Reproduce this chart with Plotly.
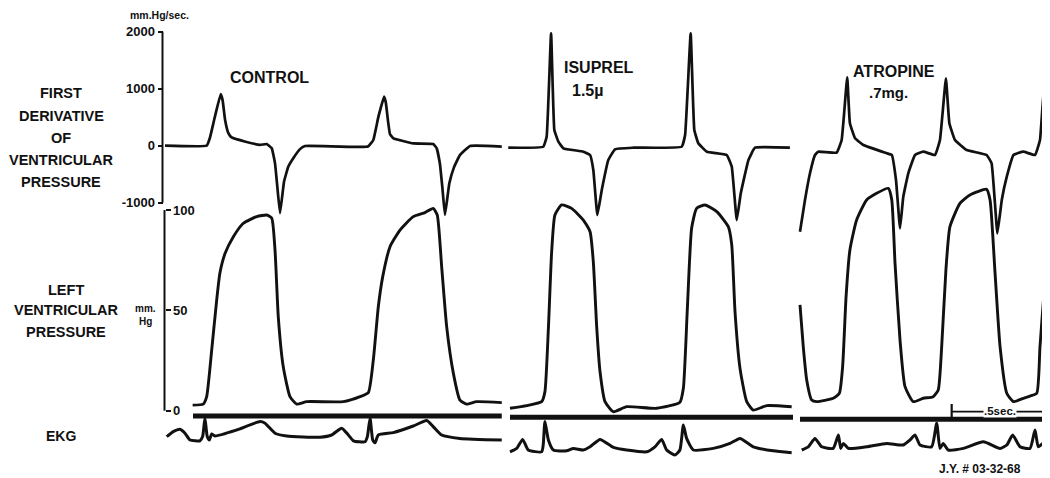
import plotly.graph_objects as go

# ---------------- DATA (time in s from start of each panel) ----------------
PANELS = ["CONTROL", "ISUPREL", "ATROPINE"]

# Control
ctrl_dpdt_t = [0.000, 0.217, 0.234, 0.260, 0.290, 0.300, 0.313, 0.330, 0.347, 0.420, 0.495, 0.530, 0.556,
               0.573, 0.585, 0.599, 0.620, 0.642, 0.668, 0.703, 0.729, 1.057, 1.085, 1.111, 1.141, 1.150,
               1.162, 1.172, 1.190, 1.293, 1.397, 1.415, 1.432, 1.445, 1.458, 1.481, 1.505, 1.536, 1.589, 1.754]
ctrl_dpdt_v = [0, 0, 140, 510, 905, 800, 450, 220, 145, 70, 15, 30, -45,
               -310, -720, -1185, -630, -370, -220, -60, -5, -15, 100, 500, 860, 760,
               420, 200, 130, 40, 30, -45, -320, -750, -1215, -660, -380, -165, -5, -15]

ctrl_lvp_t = [0.144, 0.199, 0.217, 0.243, 0.269, 0.286, 0.313, 0.356, 0.408, 0.478, 0.530, 0.556, 0.573,
              0.590, 0.616, 0.651, 0.686, 0.738, 0.929, 1.016, 1.059, 1.085, 1.111, 1.134, 1.172, 1.224,
              1.293, 1.354, 1.397, 1.418, 1.441, 1.467, 1.502, 1.536, 1.571, 1.623, 1.754]
ctrl_lvp_v = [2.8, 3.3, 7, 30, 55, 68.6, 78.4, 86.7, 93.4, 96.7, 97.5, 95.9, 80,
              46.8, 21.9, 7, 3.3, 4.5, 4.5, 7, 9, 25.3, 51.8, 66.8, 81.7, 90,
              96.7, 98.7, 100.8, 97.5, 71.7, 41.9, 18.6, 5.3, 3.3, 4.5, 4]

ctrl_ekg_t = [0.009, 0.043, 0.078, 0.104, 0.130, 0.182, 0.196, 0.208, 0.220, 0.231, 0.243, 0.260, 0.373,
              0.495, 0.521, 0.573, 0.634, 0.807, 0.868, 0.920, 0.955, 0.981, 1.042, 1.054, 1.068, 1.082,
              1.094, 1.111, 1.189, 1.293, 1.363, 1.397, 1.441, 1.536, 1.754]
ctrl_ekg_v = [0.07, 0.32, 0.44, 0.24, -0.10, -0.14, 0.07, 0.99, 0.07, -0.10, 0.20, 0.10, 0.40,
              0.82, 0.74, 0.24, 0.10, 0.04, 0.15, 0.49, 0.15, -0.14, -0.19, 0.07, 0.99, -0.10,
              -0.24, 0.15, 0.27, 0.60, 0.87, 0.57, 0.15, -0.02, -0.10]

# Isuprel 1.5 µ
isup_dpdt_t = [0.017, 0.199, 0.217, 0.240, 0.257, 0.278, 0.304, 0.408, 0.443, 0.460, 0.481, 0.504, 0.538,
               0.573, 0.668, 0.920, 0.938, 0.967, 0.986, 1.007, 1.051, 1.155, 1.181, 1.207, 1.228, 1.268,
               1.302, 1.484]
isup_dpdt_v = [-35, -18, 158, 1972, 275, 70, -46, -105, -163, -426, -1216, -777, -251,
               -63, -35, -18, 188, 1972, 275, 42, -105, -163, -368, -1304, -835, -251,
               -35, -35]

isup_lvp_t = [0.026, 0.113, 0.191, 0.208, 0.226, 0.243, 0.260, 0.295, 0.347, 0.408, 0.443, 0.460, 0.478,
              0.495, 0.521, 0.564, 0.634, 0.790, 0.911, 0.929, 0.949, 0.972, 0.998, 1.042, 1.103, 1.163,
              1.181, 1.198, 1.224, 1.259, 1.293, 1.363, 1.493]
isup_lvp_v = [1.2, 2.5, 4.5, 9.5, 41, 79.2, 97.5, 102.5, 100.8, 95, 89.2, 74.2, 41,
              19.4, 4.5, -0.5, 2, 1.2, 4.2, 11.2, 49.3, 90.9, 100.8, 102.5, 99.2, 91.7,
              82.6, 49.3, 21.1, 4.5, 0.3, 2.5, 2]

isup_ekg_t = [0.026, 0.061, 0.092, 0.121, 0.191, 0.199, 0.208, 0.226, 0.252, 0.321, 0.356, 0.408, 0.443,
              0.495, 0.564, 0.634, 0.738, 0.781, 0.816, 0.842, 0.885, 0.911, 0.929, 0.946, 0.981, 1.085,
              1.172, 1.224, 1.293, 1.397, 1.493]
isup_ekg_v = [-0.69, -0.52, -0.07, -0.60, -0.69, -0.35, 0.82, -0.10, -0.60, -0.64, -0.52, -0.60, -0.44,
              -0.07, -0.47, -0.60, -0.69, -0.44, -0.07, -0.60, -0.85, -0.60, 0.65, -0.02, -0.60, -0.52,
              -0.27, -0.02, -0.44, -0.64, -0.74]

# Atropine .7 mg
atro_dpdt_t = [0.026, 0.052, 0.078, 0.104, 0.121, 0.217, 0.243, 0.272, 0.286, 0.313, 0.356, 0.478, 0.504,
               0.526, 0.547, 0.564, 0.590, 0.625, 0.668, 0.729, 0.755, 0.786, 0.804, 0.833, 0.894, 0.998,
               1.024, 1.054, 1.077, 1.103, 1.138, 1.189, 1.250, 1.276, 1.302, 1.319]
atro_dpdt_v = [-1509, -953, -484, -163, -105, -123, 100, 1200, 393, 130, 12, -133, -163,
               -602, -1449, -895, -484, -163, -105, -163, 100, 1182, 393, 100, -75, -163,
               -309, -1537, -953, -544, -163, -105, -163, 100, 1182, 1095]

atro_lvp_t = [0.026, 0.043, 0.061, 0.087, 0.113, 0.199, 0.231, 0.248, 0.266, 0.286, 0.321, 0.373, 0.425,
              0.486, 0.504, 0.521, 0.547, 0.573, 0.616, 0.668, 0.720, 0.746, 0.764, 0.786, 0.807, 0.859,
              0.911, 0.998, 1.016, 1.042, 1.068, 1.103, 1.138, 1.189, 1.224, 1.259, 1.276, 1.302, 1.319]
atro_lvp_v = [52.7, 31.9, 15.3, 5.3, 4.5, 6.2, 8.7, 21.9, 56.8, 80.1, 95.0, 105.0, 108.3,
              110.8, 105.0, 73.4, 35.2, 12.0, 4.5, 6.2, 7.0, 10.3, 31.9, 70.1, 91.7, 103.3,
              107.5, 110.3, 105.0, 68.5, 31.9, 8.7, 4.5, 6.2, 7.3, 8.7, 31.9, 65.1, 81.7]

atro_ekg_t = [0.035, 0.069, 0.104, 0.139, 0.199, 0.226, 0.238, 0.252, 0.278, 0.373, 0.478, 0.564, 0.599,
              0.625, 0.651, 0.712, 0.738, 0.755, 0.772, 0.798, 0.877, 0.981, 1.068, 1.103, 1.134, 1.172,
              1.224, 1.250, 1.267, 1.293, 1.319]
atro_ekg_v = [-0.60, -0.44, -0.02, -0.44, -0.52, 0.15, -0.52, -0.27, -0.52, -0.44, -0.27, -0.35, -0.10,
              0.15, -0.35, -0.44, 0.74, -0.52, -0.27, -0.60, -0.52, -0.19, -0.52, -0.35, 0.15, -0.44,
              -0.52, 0.40, -0.44, -0.27, -0.52]

# Recorder reference (zero) line under each pressure trace: start, end (s), level (mm Hg)
ref_line_start = [0.146, 0.026, 0.026]
ref_line_end = [1.754, 1.500, 1.318]
ref_line_level = [-2.6, -3.3, -4.3]

# Time calibration bar (Atropine panel)
scale_bar_start = 0.816
scale_bar_len = 0.5
scale_bar_level = -0.5

dpdt_ticks = [-1000, 0, 1000, 2000]
dpdt_ticktext = ["-1000", "0", "1000", "2000"]
lvp_ticks = [0, 50, 100]
lvp_ticktext = ["0", "50", "100"]

# ---------------- LAYOUT helpers ----------------
# The page body has an 8 px margin; the figure is placed at (8, 8).
OX, OY = 8, 8
FW, FH = 1042, 470
FONT = "Liberation Sans"
INK = "#111111"


def px(x):
    return (x - OX) / FW


def py(y):
    return 1 - (y - OY) / FH


def dom(top, bottom):
    return [1 - (bottom - OY) / FH, 1 - (top - OY) / FH]


PANEL_PX = [(165, 505), (505, 795), (795, 1050)]
PX_PER_SEC = 192.0

# dP/dt axis: 0 at px 145.7, 57 px per 1000 mmHg/s
DP_TOP, DP_BOT = 25, 240
dp_range = [(145.7 - DP_BOT) / 0.057, (145.7 - DP_TOP) / 0.057]
# pressure axis: 0 at px 410.7, 2.007 px per mmHg
LV_TOP, LV_BOT = 178, 426
lv_range = [(410.7 - LV_BOT) / 2.007, (410.7 - LV_TOP) / 2.007]
# EKG axis: baseline px 438, 20 px per unit
EK_TOP, EK_BOT = 402, 466
ek_range = [(438 - EK_BOT) / 20.0, (438 - EK_TOP) / 20.0]

fig = go.Figure()

data = [
    (ctrl_dpdt_t, ctrl_dpdt_v, ctrl_lvp_t, ctrl_lvp_v, ctrl_ekg_t, ctrl_ekg_v),
    (isup_dpdt_t, isup_dpdt_v, isup_lvp_t, isup_lvp_v, isup_ekg_t, isup_ekg_v),
    (atro_dpdt_t, atro_dpdt_v, atro_lvp_t, atro_lvp_v, atro_ekg_t, atro_ekg_v),
]
xaxes = ["x", "x2", "x3"]
for i, (dt, dv, lt, lv, et, ev) in enumerate(data):
    xa = xaxes[i]
    fig.add_trace(go.Scatter(x=dt, y=dv, xaxis=xa, yaxis="y", mode="lines",
                             line=dict(color=INK, width=2.7, shape="spline", smoothing=0.3),
                             name=PANELS[i] + " dP/dt"))
    fig.add_trace(go.Scatter(x=lt, y=lv, xaxis=xa, yaxis="y2", mode="lines",
                             line=dict(color=INK, width=2.9, shape="spline", smoothing=0.5),
                             name=PANELS[i] + " LVP"))
    fig.add_trace(go.Scatter(x=[ref_line_start[i], ref_line_end[i]],
                             y=[ref_line_level[i], ref_line_level[i]],
                             xaxis=xa, yaxis="y2", mode="lines",
                             line=dict(color=INK, width=5), name=PANELS[i] + " ref"))
    fig.add_trace(go.Scatter(x=et, y=ev, xaxis=xa, yaxis="y3", mode="lines",
                             line=dict(color=INK, width=3, shape="spline", smoothing=0.5),
                             name=PANELS[i] + " EKG"))

# .5 sec calibration bar
fig.add_trace(go.Scatter(x=[scale_bar_start, scale_bar_start + scale_bar_len],
                         y=[scale_bar_level, scale_bar_level], xaxis="x3", yaxis="y2",
                         mode="lines+markers",
                         line=dict(color=INK, width=1.8),
                         marker=dict(symbol="line-ns", size=11, line=dict(color=INK, width=2.2)),
                         name="scale"))

layout_axes = {}
for i, (a, b) in enumerate(PANEL_PX):
    key = "xaxis" if i == 0 else f"xaxis{i + 1}"
    layout_axes[key] = dict(domain=[px(a), min(px(b), 1.0)], range=[0, (b - a) / PX_PER_SEC],
                            visible=False, anchor="y3")

tickfont = dict(size=13, family=FONT, color=INK, weight="bold")
fig.update_layout(
    width=FW, height=FH,
    margin=dict(l=0, r=0, t=0, b=0),
    paper_bgcolor="white", plot_bgcolor="rgba(0,0,0,0)",
    showlegend=False,
    font=dict(family=FONT, color=INK),
    yaxis=dict(domain=dom(DP_TOP, DP_BOT), range=dp_range, anchor="free", position=px(162.5),
               side="left", tickvals=dpdt_ticks, ticktext=dpdt_ticktext, ticks="outside",
               ticklen=5, tickwidth=2, tickcolor=INK, showline=False, showgrid=False,
               zeroline=False, tickfont=tickfont),
    yaxis2=dict(domain=dom(LV_TOP, LV_BOT), range=lv_range, anchor="free", position=px(164.5),
                side="right", tickvals=lvp_ticks, ticktext=lvp_ticktext, ticks="outside",
                ticklen=5, tickwidth=2, tickcolor=INK, showline=False, showgrid=False,
                zeroline=False, tickfont=tickfont),
    yaxis3=dict(domain=dom(EK_TOP, EK_BOT), range=ek_range, anchor="free", position=0,
                visible=False),
    **layout_axes,
)

# axis spines (only over the calibrated span)
fig.add_shape(type="line", xref="paper", yref="y", x0=px(162.5), x1=px(162.5),
              y0=dpdt_ticks[0], y1=dpdt_ticks[-1], line=dict(color=INK, width=2))
fig.add_shape(type="line", xref="paper", yref="y2", x0=px(164.5), x1=px(164.5),
              y0=lvp_ticks[0], y1=lvp_ticks[-1], line=dict(color=INK, width=2))


def label(text, x, y, size=14, xanchor="center", bg=None, bold=True):
    fig.add_annotation(text=text, x=px(x), y=py(y), xref="paper", yref="paper",
                       showarrow=False, xanchor=xanchor, yanchor="middle",
                       font=dict(size=size, family=FONT, color=INK,
                                 weight="bold" if bold else "normal"),
                       bgcolor=bg, borderpad=0)


for txt, yy in zip(["FIRST", "DERIVATIVE", "OF", "VENTRICULAR", "PRESSURE"],
                   [93, 116, 138, 160, 182]):
    label(txt, 61, yy, size=14.5)
for txt, yy in zip(["LEFT", "VENTRICULAR", "PRESSURE"], [290, 310, 332]):
    label(txt, 66, yy, size=14.5)
label("EKG", 61, 436, size=14)
label("mm.Hg/sec.", 159, 15, size=10.5)
label("mm.", 145, 308, size=10)
label("Hg", 145, 321, size=10)
label("CONTROL", 269, 77, size=16)
label("ISUPREL", 599, 67, size=16)
label("1.5µ", 587, 90, size=16)
label("ATROPINE", 894, 72, size=16)
label(".7mg.", 888, 93, size=15)
label(".5sec.", 1000, 411, size=11.5, bg="white")
label("J.Y. # 03-32-68", 980, 469, size=12)

fig.write_html("out.html")
